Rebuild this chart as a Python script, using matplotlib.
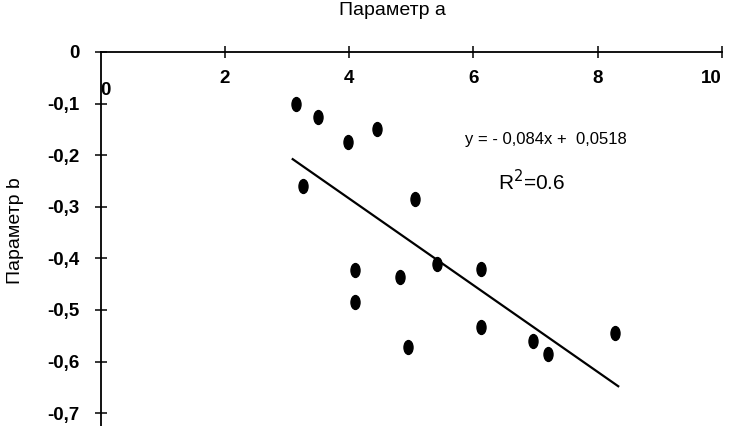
#!/usr/bin/env python3
# Scatter of parameter b vs parameter a with linear trend
import numpy as np
import matplotlib.pyplot as plt
from matplotlib.path import Path
from matplotlib.transforms import Affine2D

plt.rcParams['font.family'] = ['Liberation Sans', 'DejaVu Sans']

# points
param_a = [3.14, 3.49, 3.98, 4.44, 3.25, 5.06, 4.09, 4.09, 4.81, 5.41,
           6.12, 6.12, 4.94, 6.96, 7.20, 8.28]
param_b = [-0.100, -0.126, -0.174, -0.149, -0.260, -0.285, -0.423, -0.485,
           -0.436, -0.411, -0.421, -0.534, -0.572, -0.560, -0.585, -0.545]

# trend line coefficients as printed on the chart
slope = -0.084
intercept = 0.0518

x_ticks = [2, 4, 6, 8, 10]
y_ticks = [0, -0.1, -0.2, -0.3, -0.4, -0.5, -0.6, -0.7]
y_labels = ['0', '-0,1', '-0,2', '-0,3', '-0,4', '-0,5', '-0,6', '-0,7']

fig = plt.figure(figsize=(7.3, 4.26), dpi=100)
ax = fig.add_axes([0.138, 0.0, 0.851, 0.878])

# tall elliptical marker like the scanned dots
dot = Path.unit_circle().transformed(Affine2D().scale(0.65, 1.0))
ax.plot(param_a, param_b, linestyle='none', marker=dot, markersize=10,
        color='k')

xs = np.array([min(param_a) - 0.05, max(param_a) + 0.05])
ax.plot(xs, slope * xs + intercept, 'k-', lw=1.6)

ax.set_xlim(0, 10)
ax.set_ylim(-0.725, 0)

for side in ['right', 'bottom']:
    ax.spines[side].set_visible(False)
for side in ['top', 'left']:
    ax.spines[side].set_linewidth(1.3)

ax.xaxis.tick_top()
ax.set_xticks(x_ticks)
ax.set_xticklabels([str(t) for t in x_ticks], fontweight='bold')
ax.tick_params(axis='x', direction='inout', length=9, width=1.1,
               pad=-30, labelsize=13.5)
last = ax.get_xticklabels()[-1]
last.set_horizontalalignment('right')
last.set_x(10.08)
ax.set_yticks(y_ticks)
ax.set_yticklabels(y_labels, fontweight='bold')
ax.tick_params(axis='y', direction='inout', length=9, width=1.1,
               pad=11, labelsize=13.5)
ax.text(0.08, -0.075, '0', fontsize=13.5, fontweight='bold',
        ha='center', va='center')

fig.text(0.537, 0.975, 'Параметр a', fontsize=14, ha='center', va='center')
fig.text(0.021, 0.458, 'Параметр b', rotation=90, fontsize=14,
         ha='center', va='center')

ax.text(7.17, -0.169, 'y = - 0,084x +  0,0518', fontsize=12,
        ha='center', va='center')
ax.text(6.93, -0.252, 'R$^2$=0.6', fontsize=15, ha='center', va='center')

fig.savefig('out.png', dpi=100)
